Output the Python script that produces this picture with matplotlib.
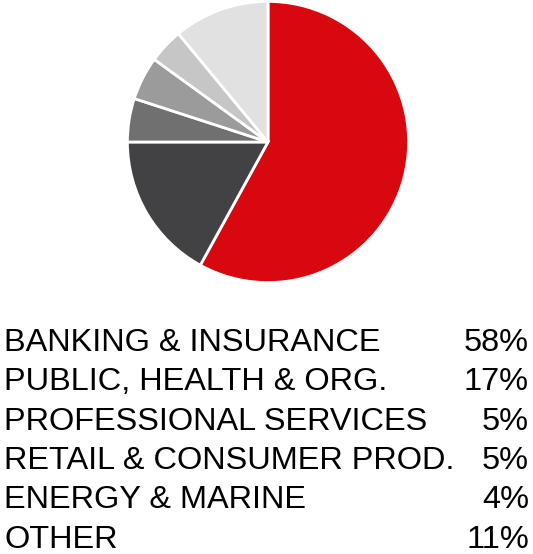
import matplotlib.pyplot as plt

# sector breakdown
sectors = ['BANKING & INSURANCE', 'PUBLIC, HEALTH & ORG.', 'PROFESSIONAL SERVICES',
           'RETAIL & CONSUMER PROD.', 'ENERGY & MARINE', 'OTHER']
shares = [58, 17, 5, 5, 4, 11]
colors = ['#d7090f', '#424244', '#707070', '#9b9b9b', '#c6c6c6', '#e1e1e1']

W, H = 533, 554
fig = plt.figure(figsize=(W / 100, H / 100), dpi=100)

# pie: centre (268, 142) px, radius 142 px
cx, cy, r = 268, 142, 142
ax = fig.add_axes([(cx - r) / W, (H - cy - r) / H, 2 * r / W, 2 * r / H])
ax.pie(shares, colors=colors, startangle=90, counterclock=False, radius=1,
       wedgeprops=dict(edgecolor='white', linewidth=2))
ax.set_xlim(-1.01, 1.01)
ax.set_ylim(-1.01, 1.01)
ax.set_aspect('equal')
ax.axis('off')

# legend table below the pie
y0, dy = 343, 39.3
for i, (name, pct) in enumerate(zip(sectors, shares)):
    y = 1 - (y0 + i * dy) / H
    fig.text(4 / W, y, name, ha='left', va='center', fontsize=23.4,
             family='Liberation Sans', color='black')
    fig.text(529 / W, y, f'{pct}%', ha='right', va='center', fontsize=23.4,
             family='Liberation Sans', color='black')

fig.savefig('out.png', dpi=100)
